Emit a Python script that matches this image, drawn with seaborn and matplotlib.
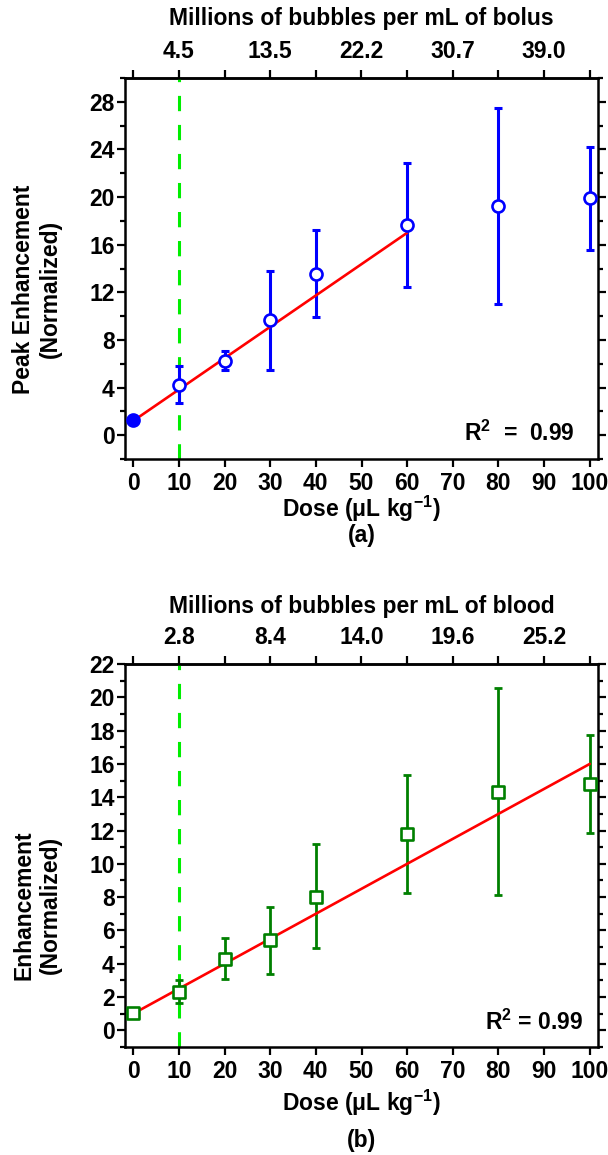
import numpy as np
import pandas as pd
import seaborn as sns
import matplotlib.pyplot as plt
from matplotlib.ticker import MultipleLocator

# --- data ---
dose = [0, 10, 20, 30, 40, 60, 80, 100]

# (a) peak enhancement, bolus
peak_mean = [1.25, 4.25, 6.25, 9.67, 13.58, 17.64, 19.22, 19.89]
peak_hi = [1.25, 5.78, 7.03, 13.83, 17.25, 22.86, 27.44, 24.19]
peak_lo = [1.25, 2.72, 5.50, 5.44, 9.94, 12.42, 11.05, 15.56]
fit_a_x = [0, 60]
fit_a_y = [1.2, 17.0]
bolus_ticks = [10, 30, 50, 70, 90]
bolus_labels = ["4.5", "13.5", "22.2", "30.7", "39.0"]

# (b) enhancement, blood
enh_mean = [1.04, 2.31, 4.28, 5.42, 8.03, 11.79, 14.34, 14.80]
enh_hi = [1.04, 3.01, 5.56, 7.43, 11.22, 15.32, 20.54, 17.75]
enh_lo = [1.04, 1.67, 3.07, 3.41, 4.92, 8.23, 8.11, 11.85]
fit_b_x = [0, 100]
fit_b_y = [1.0, 16.0]
blood_ticks = [10, 30, 50, 70, 90]
blood_labels = ["2.8", "8.4", "14.0", "19.6", "25.2"]

threshold_dose = 10

sns.set_theme(style="ticks")
plt.rcParams["font.family"] = ["Liberation Sans", "DejaVu Sans"]
plt.rcParams["font.weight"] = "bold"
plt.rcParams["axes.labelweight"] = "bold"
plt.rcParams["mathtext.default"] = "regular"
for k in ["text.color", "axes.labelcolor", "xtick.color", "ytick.color",
          "xtick.labelcolor", "ytick.labelcolor", "axes.edgecolor"]:
    plt.rcParams[k] = "black"

FS = 16.5
W, H = 608, 1155
fig = plt.figure(figsize=(W / 100, H / 100), dpi=100)
# axes boxes in pixel terms: left 125, right 598
ax1 = fig.add_axes([125 / W, 1 - 459 / H, 473 / W, 381 / H])
ax2 = fig.add_axes([125 / W, 1 - 1047 / H, 473 / W, 383 / H])


def style_axis(ax, ymin, ymax, ymaj, top_ticks, top_labels, top_title, ylabel,
               tag, ylab_y, dose_y, tag_y, title_y):
    ax.set_xlim(-1.8, 101.8)
    ax.set_ylim(ymin, ymax)
    ax.xaxis.set_major_locator(MultipleLocator(10))
    ax.yaxis.set_major_locator(MultipleLocator(ymaj))
    ax.yaxis.set_minor_locator(MultipleLocator(ymaj / 2))
    for s in ax.spines.values():
        s.set_linewidth(1.8)
        s.set_color("black")
    ax.tick_params(axis="both", which="major", direction="out", length=5.5, width=1.6,
                   labelsize=FS, color="black", labelcolor="black", pad=4)
    ax.tick_params(axis="y", which="minor", direction="out", length=3.5, width=1.6, color="black")
    ax.tick_params(axis="y", which="both", right=True, labelright=False)
    ax.tick_params(axis="y", which="major", pad=2)
    for t in ax.get_xticklabels() + ax.get_yticklabels():
        t.set_fontweight("bold")

    ax.set_xlabel("Dose ($\\mu$L kg$^{-1}$)", fontsize=FS, fontweight="bold")
    ax.xaxis.label.set_va("center")
    ax.xaxis.set_label_coords(0.5, dose_y)
    ax.set_ylabel(ylabel, fontsize=FS, fontweight="bold", linespacing=1.2)
    ax.yaxis.label.set_va("center")
    ax.yaxis.set_label_coords(-0.186, ylab_y)

    sec = ax.secondary_xaxis("top")
    sec.set_xticks(list(range(0, 101, 10)))
    lab = []
    for v in range(0, 101, 10):
        lab.append(top_labels[top_ticks.index(v)] if v in top_ticks else "")
    sec.set_xticklabels(lab, fontsize=FS, fontweight="bold", color="black")
    sec.tick_params(direction="out", length=6, width=1.6, color="black",
                    labelcolor="black", pad=5)
    sec.spines["top"].set_linewidth(1.8)
    ax.text(0.5, title_y, top_title, transform=ax.transAxes, ha="center", va="center",
            fontsize=FS, fontweight="bold")

    ax.text(0.5, tag_y, tag, transform=ax.transAxes,
            ha="center", va="center", fontsize=FS, fontweight="bold")


# ---------- panel (a) ----------
ax1.axvline(threshold_dose, color="#00ee00", lw=2.2, ls=(0, (5, 4.5)), zorder=1)
sns.lineplot(x=fit_a_x, y=fit_a_y, color="red", lw=1.9, ax=ax1, zorder=4)
m = np.array(peak_mean)
ax1.errorbar(dose, peak_mean, yerr=[m - np.array(peak_lo), np.array(peak_hi) - m],
             fmt="none", ecolor="blue", elinewidth=2.2, capsize=3, capthick=2.2, zorder=3)
df_a = pd.DataFrame({"dose": dose, "val": peak_mean})
sns.scatterplot(data=df_a.iloc[1:], x="dose", y="val", marker="o", s=75,
                facecolor="white", edgecolor="blue", linewidth=1.9, ax=ax1, zorder=5)
sns.scatterplot(data=df_a.iloc[:1], x="dose", y="val", marker="o", s=75,
                color="blue", edgecolor="blue", linewidth=1.9, ax=ax1, zorder=5)
ax1.text(0.951, 0.068, "R$^2$  =  0.99", transform=ax1.transAxes, ha="right", va="center",
         fontsize=FS, fontweight="bold")
style_axis(ax1, -2, 30, 4, bolus_ticks, bolus_labels, "Millions of bubbles per mL of bolus",
           "Peak Enhancement\n(Normalized)", "(a)",
           ylab_y=0.446, dose_y=-0.13, tag_y=-0.20, title_y=1.157)

# ---------- panel (b) ----------
ax2.axvline(threshold_dose, color="#00ee00", lw=2.2, ls=(0, (5, 4.5)), zorder=1)
sns.lineplot(x=fit_b_x, y=fit_b_y, color="red", lw=1.9, ax=ax2, zorder=4)
m = np.array(enh_mean)
ax2.errorbar(dose, enh_mean, yerr=[m - np.array(enh_lo), np.array(enh_hi) - m],
             fmt="none", ecolor="green", elinewidth=2.0, capsize=3, capthick=2.0, zorder=3)
df_b = pd.DataFrame({"dose": dose, "val": enh_mean})
sns.scatterplot(data=df_b, x="dose", y="val", marker="s", s=75,
                facecolor="white", edgecolor="green", linewidth=1.9, ax=ax2, zorder=5)
ax2.text(0.968, 0.065, "R$^2$ = 0.99", transform=ax2.transAxes, ha="right", va="center",
         fontsize=FS, fontweight="bold")
style_axis(ax2, -1, 22, 2, blood_ticks, blood_labels, "Millions of bubbles per mL of blood",
           "Enhancement\n(Normalized)", "(b)",
           ylab_y=0.371, dose_y=-0.146, tag_y=-0.243, title_y=1.149)

fig.savefig("out.png", dpi=100)
